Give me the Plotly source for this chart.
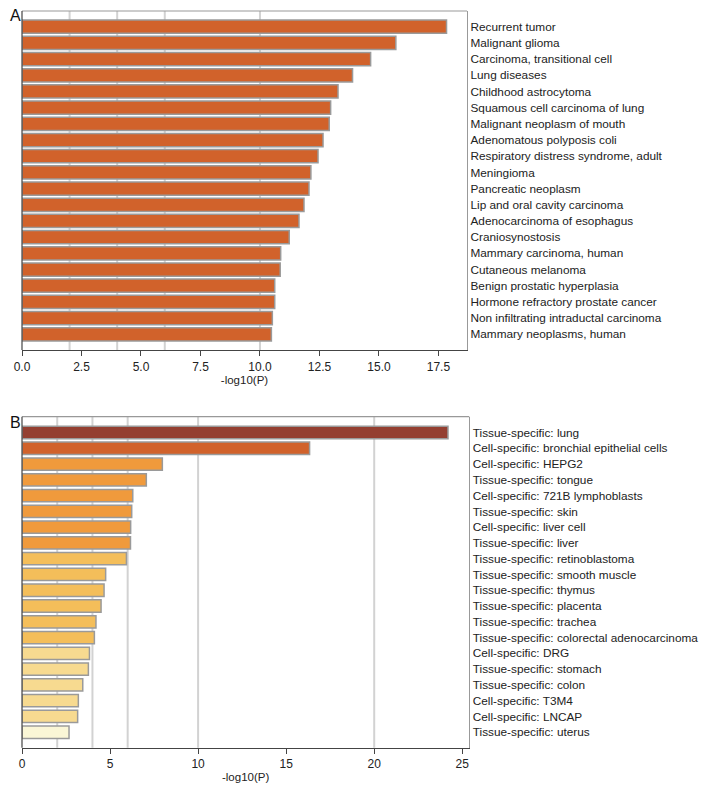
import plotly.graph_objects as go

# ---------------- Data ----------------
terms_a = [
    "Recurrent tumor", "Malignant glioma", "Carcinoma, transitional cell", "Lung diseases",
    "Childhood astrocytoma", "Squamous cell carcinoma of lung", "Malignant neoplasm of mouth",
    "Adenomatous polyposis coli", "Respiratory distress syndrome, adult", "Meningioma",
    "Pancreatic neoplasm", "Lip and oral cavity carcinoma", "Adenocarcinoma of esophagus",
    "Craniosynostosis", "Mammary carcinoma, human", "Cutaneous melanoma",
    "Benign prostatic hyperplasia", "Hormone refractory prostate cancer",
    "Non infiltrating intraductal carcinoma", "Mammary neoplasms, human",
]
values_a = [17.84, 15.71, 14.65, 13.89, 13.28, 12.97, 12.91, 12.65, 12.44, 12.14,
            12.06, 11.85, 11.64, 11.23, 10.87, 10.85, 10.62, 10.62, 10.52, 10.48]

terms_b = [
    "Tissue-specific: lung", "Cell-specific: bronchial epithelial cells", "Cell-specific: HEPG2",
    "Tissue-specific: tongue", "Cell-specific: 721B lymphoblasts", "Tissue-specific: skin",
    "Cell-specific: liver cell", "Tissue-specific: liver", "Tissue-specific: retinoblastoma",
    "Tissue-specific: smooth muscle", "Tissue-specific: thymus", "Tissue-specific: placenta",
    "Tissue-specific: trachea", "Tissue-specific: colorectal adenocarcinoma", "Cell-specific: DRG",
    "Tissue-specific: stomach", "Tissue-specific: colon", "Cell-specific: T3M4",
    "Cell-specific: LNCAP", "Tissue-specific: uterus",
]
values_b = [24.19, 16.33, 7.97, 7.06, 6.29, 6.23, 6.17, 6.16, 5.93, 4.75,
            4.66, 4.49, 4.20, 4.11, 3.83, 3.77, 3.45, 3.20, 3.16, 2.67]

ticks_a = [0, 2.5, 5, 7.5, 10, 12.5, 15, 17.5]
ticklabels_a = ["0.0", "2.5", "5.0", "7.5", "10.0", "12.5", "15.0", "17.5"]
ticks_b = [0, 5, 10, 15, 20, 25]
grid_a = [2, 4, 6, 10]
grid_b = [2, 4, 6, 10, 20]

# ---------------- Styles ----------------
C_DARK = "#943F31"
C_RED = "#D1622B"
C_ORANGE = "#F09A3C"
C_YEL = "#F4BE5A"
C_LIGHT = "#F7DA90"
C_PALE = "#FAF6D6"
colors_a = [C_RED] * len(values_a)
colors_b = [C_DARK, C_RED] + [C_ORANGE] * 6 + [C_YEL] * 6 + [C_LIGHT] * 5 + [C_PALE]

FONT = "Liberation Sans, Arial, sans-serif"
OFF = 8  # page body margin
W, H = 720 - OFF, 786 - OFF

def px_x(v):
    return (v - OFF) / W

def px_y(v):
    return 1 - (v - OFF) / H

fig = go.Figure()

fig.add_trace(go.Bar(
    x=values_a, y=terms_a, orientation="h", xaxis="x", yaxis="y",
    marker=dict(color=colors_a, line=dict(color="#9a9a9a", width=1.5)),
    width=0.82, showlegend=False,
))
fig.add_trace(go.Bar(
    x=values_b, y=terms_b, orientation="h", xaxis="x2", yaxis="y2",
    marker=dict(color=colors_b, line=dict(color="#9a9a9a", width=1.5)),
    width=0.78, showlegend=False,
))

label_font = dict(family=FONT, size=11.8, color="#222")
tick_font = dict(family=FONT, size=12, color="#222")
title_font = dict(family=FONT, size=11.5, color="#222")

fig.update_layout(
    width=W, height=H,
    margin=dict(l=0, r=0, t=0, b=0, autoexpand=False),
    paper_bgcolor="white", plot_bgcolor="white",
    font=dict(family=FONT, size=12, color="#222"),
    xaxis=dict(
        domain=[px_x(22), px_x(467)], anchor="y", range=[0, 18.7],
        tickvals=ticks_a, ticktext=ticklabels_a, ticks="outside", ticklen=5,
        tickcolor="#444", showgrid=False, zeroline=False,
        showline=True, linecolor="#444", linewidth=1.2, automargin=False,
        title=dict(text="-log10(P)", font=title_font, standoff=3),
        tickfont=tick_font,
    ),
    yaxis=dict(
        domain=[px_y(350), px_y(11)], anchor="x", side="right",
        categoryorder="array", categoryarray=terms_a,
        range=[19.97, -0.97], showgrid=False, zeroline=False,
        showline=True, linecolor="#999", linewidth=1.2, automargin=False,
        ticks="", tickfont=label_font, ticklabelstandoff=0,
    ),
    xaxis2=dict(
        domain=[px_x(22), px_x(469.3)], anchor="y2", range=[0, 25.4],
        tickvals=ticks_b, ticks="outside", ticklen=5,
        tickcolor="#444", showgrid=False, zeroline=False,
        showline=True, linecolor="#444", linewidth=1.2, automargin=False,
        title=dict(text="-log10(P)", font=title_font, standoff=2),
        tickfont=tick_font,
    ),
    yaxis2=dict(
        domain=[px_y(747.7), px_y(416.7)], anchor="x2", side="right",
        categoryorder="array", categoryarray=terms_b,
        range=[19.98, -1.0], showgrid=False, zeroline=False,
        showline=True, linecolor="#999", linewidth=1.2, automargin=False,
        ticks="", tickfont=label_font, ticklabelstandoff=0,
    ),
)

shapes = []
for g in grid_a:
    shapes.append(dict(type="line", xref="x", yref="y domain", x0=g, x1=g, y0=0, y1=1,
                       line=dict(color="#d2d2d2", width=2), layer="below"))
for g in grid_b:
    shapes.append(dict(type="line", xref="x2", yref="y2 domain", x0=g, x1=g, y0=0, y1=1,
                       line=dict(color="#d2d2d2", width=2), layer="below"))
# frame: top (gray) and left (dark) borders
for xr, yr in (("x", "y"), ("x2", "y2")):
    shapes.append(dict(type="line", xref=f"{xr} domain", yref=f"{yr} domain",
                       x0=0, x1=1, y0=1, y1=1, line=dict(color="#999", width=1.2)))
    shapes.append(dict(type="line", xref=f"{xr} domain", yref=f"{yr} domain",
                       x0=0, x1=0, y0=0, y1=1, line=dict(color="#444", width=1.2)))
fig.update_layout(shapes=shapes)

fig.add_annotation(text="A", x=px_x(8), y=px_y(16), xref="paper", yref="paper",
                   xanchor="left", yanchor="middle", showarrow=False,
                   font=dict(family=FONT, size=16, color="#111"))
fig.add_annotation(text="B", x=px_x(8), y=px_y(422.5), xref="paper", yref="paper",
                   xanchor="left", yanchor="middle", showarrow=False,
                   font=dict(family=FONT, size=16, color="#111"))

fig.write_html("out.html")
